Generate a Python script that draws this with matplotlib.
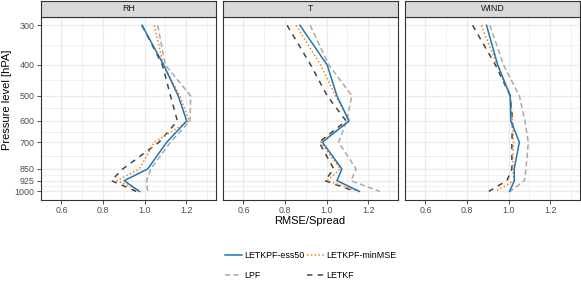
import numpy as np
import matplotlib
matplotlib.use("Agg")
import matplotlib.pyplot as plt
from matplotlib.ticker import FixedLocator, NullFormatter
from matplotlib.lines import Line2D

plt.rcParams['font.family'] = ['Liberation Sans', 'DejaVu Sans']

levels = [300, 400, 500, 600, 700, 850, 925, 1000]
variables = ["RH", "T", "WIND"]
methods = ["LETKPF-ess50", "LETKPF-minMSE", "LPF", "LETKF"]

# RMSE/Spread per variable and method (ordered by levels)
rh_ess50 = [0.988, 1.092, 1.162, 1.203, 1.107, 1.015, 0.902, 0.975]
rh_minmse = [1.047, 1.090, 1.170, 1.215, 1.047, 0.975, 0.867, 0.985]
rh_lpf = [1.063, 1.100, 1.222, 1.219, 1.125, 1.030, 1.010, 1.015]
rh_letkf = [0.988, 1.086, 1.125, 1.158, 1.070, 0.895, 0.840, 0.960]

t_ess50 = [0.872, 1.003, 1.050, 1.108, 0.980, 1.074, 1.050, 1.158]
t_minmse = [0.853, 0.972, 1.043, 1.112, 0.972, 1.066, 1.003, 1.153]
t_lpf = [0.921, 1.011, 1.122, 1.097, 1.058, 1.142, 1.118, 1.256]
t_letkf = [0.810, 0.924, 1.003, 1.094, 0.964, 1.035, 0.992, 1.137]

wind_ess50 = [0.894, 0.948, 1.008, 1.011, 1.052, 1.027, 1.028, 1.005]
wind_minmse = [0.869, 0.945, 1.008, 1.019, 1.024, 1.020, 1.027, 0.937]
wind_lpf = [0.910, 0.976, 1.052, 1.079, 1.095, 1.084, 1.077, 1.007]
wind_letkf = [0.827, 0.937, 1.008, 1.020, 1.016, 1.016, 0.992, 0.905]

data = {
    "RH": [rh_ess50, rh_minmse, rh_lpf, rh_letkf],
    "T": [t_ess50, t_minmse, t_lpf, t_letkf],
    "WIND": [wind_ess50, wind_minmse, wind_lpf, wind_letkf],
}

x_ticks = [0.6, 0.8, 1.0, 1.2]
x_tick_labels = ["0.6", "0.8", "1.0", "1.2"]

styles = {
    "LETKPF-ess50": dict(color="#1F77B4", linestyle="-"),
    "LETKPF-minMSE": dict(color="#FF7F0E", linestyle=(0, (1, 1.5))),
    "LPF": dict(color="#AAAAAA", linestyle=(0, (3.5, 2))),
    "LETKF": dict(color="#444444", linestyle=(0, (3.5, 3.5))),
}
# draw order (background to foreground)
draw_order = ["LPF", "LETKF", "LETKPF-minMSE", "LETKPF-ess50"]

W, H = 581, 291
fig = plt.figure(figsize=(W / 100, H / 100), dpi=100)

panel_lefts = [40.7, 222.7, 404.7]
panel_w = 175.5
panel_top = 17.0
panel_bot = 199.7
strip_top = 0.5

lo = np.log10(300); hi = np.log10(1000)
ex = 0.05 * (hi - lo)
ylim = (10 ** (hi + ex), 10 ** (lo - ex))
xlim = (0.518, 1.345)

majors = np.log10(levels)
minors = [10 ** ((majors[i] + majors[i + 1]) / 2) for i in range(len(levels) - 1)]

grid_c = "#EBEBEB"
frame_c = "#333333"
tick_c = "#4D4D4D"
fs_tick = 6.4

for i, var in enumerate(variables):
    l = panel_lefts[i]
    ax = fig.add_axes([l / W, 1 - panel_bot / H, panel_w / W, (panel_bot - panel_top) / H])
    ax.set_yscale("log")
    ax.set_ylim(*ylim)
    ax.set_xlim(*xlim)
    ax.yaxis.set_major_locator(FixedLocator(levels))
    ax.yaxis.set_minor_locator(FixedLocator(minors))
    ax.yaxis.set_minor_formatter(NullFormatter())
    ax.set_xticks(x_ticks)
    ax.set_xticks([0.5, 0.7, 0.9, 1.1, 1.3], minor=True)
    ax.set_xticklabels(x_tick_labels)
    if i == 0:
        ax.set_yticklabels([str(v) for v in levels])
    else:
        ax.set_yticklabels([])
    ax.grid(True, which="major", color=grid_c, linewidth=1.0)
    ax.grid(True, which="minor", color=grid_c, linewidth=0.5)
    ax.set_axisbelow(True)
    ax.tick_params(axis="both", which="major", labelsize=fs_tick, labelcolor=tick_c,
                   color=frame_c, length=2.8, width=0.6, pad=1.5)
    ax.tick_params(axis="both", which="minor", length=0)
    if i != 0:
        ax.tick_params(axis="y", which="major", length=0)
    for s in ax.spines.values():
        s.set_color(frame_c)
        s.set_linewidth(0.8)
    for m in draw_order:
        idx = methods.index(m)
        ax.plot(data[var][idx], levels, linewidth=1.1, **styles[m])

    # strip
    sax = fig.add_axes([l / W, 1 - (panel_top - 0.5) / H, panel_w / W, (panel_top - 0.5 - strip_top) / H])
    sax.set_facecolor("#D9D9D9")
    sax.set_xticks([]); sax.set_yticks([])
    for s in sax.spines.values():
        s.set_color(frame_c)
        s.set_linewidth(0.8)
    sax.text(0.5, 0.5, var, ha="center", va="center", fontsize=fs_tick, color="#1A1A1A",
             transform=sax.transAxes)

fig.text(310 / W, 1 - 220.7 / H, "RMSE/Spread", ha="center", va="center", fontsize=8, color="black")
fig.text(7.5 / W, 1 - 100 / H, "Pressure level [hPA]", ha="center", va="center", rotation=90,
         fontsize=8, color="black")

handles = {}
for m in methods:
    handles[m] = Line2D([], [], linewidth=1.1, **styles[m])
leg_order = ["LETKPF-ess50", "LPF", "LETKPF-minMSE", "LETKF"]
fig.legend([handles[m] for m in leg_order], leg_order, ncol=2, loc="center",
           bbox_to_anchor=(311 / W, 1 - 265.5 / H), frameon=False, fontsize=fs_tick,
           handlelength=1.9, handletextpad=0.25, columnspacing=0.3, labelspacing=1.3,
           borderpad=0)

fig.savefig("out.png", dpi=100)
